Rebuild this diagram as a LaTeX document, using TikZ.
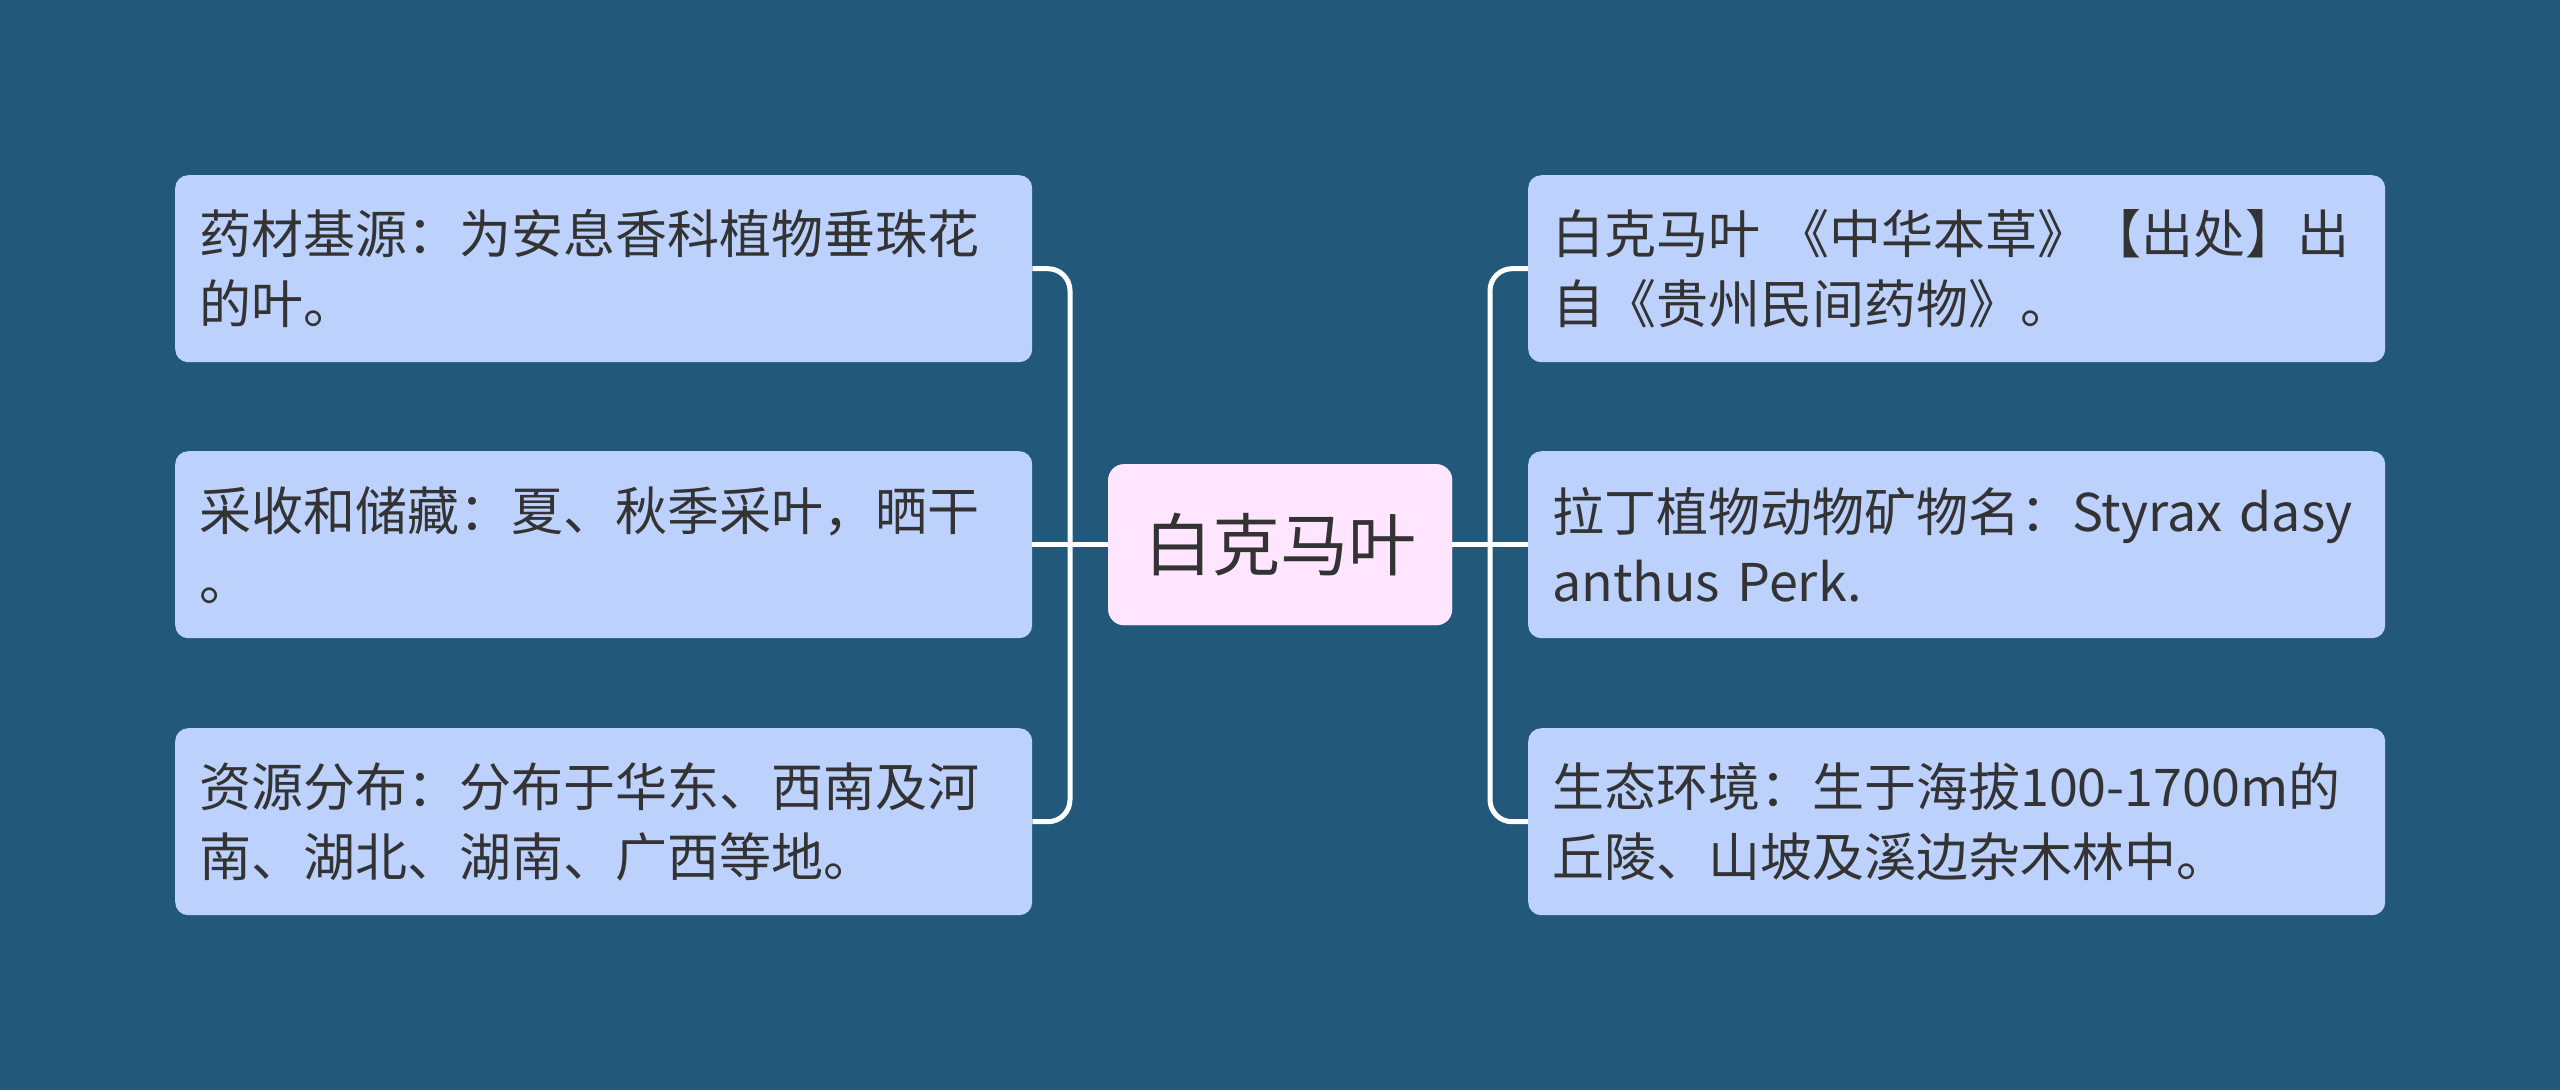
\documentclass[tikz,border=0pt]{standalone}
\usepackage{fontspec}
\setmainfont{Noto Sans CJK SC}
\definecolor{bg}{HTML}{22587A}
\definecolor{leaffill}{HTML}{BDD1FD}
\definecolor{rootfill}{HTML}{FFE5FF}
\definecolor{txt}{HTML}{333333}
\definecolor{linec}{HTML}{FFFFFF}
\tikzset{
  leaf/.style={rectangle, rounded corners=13pt, fill=leaffill, text=txt,
    anchor=north west, inner xsep=24pt, inner ysep=0pt, text width=809pt,
    minimum height=187pt, align=left,
    font=\fontsize{52pt}{70pt}\selectfont},
  rootbox/.style={rectangle, rounded corners=16pt, fill=rootfill, text=txt,
    anchor=north west, minimum width=344pt, minimum height=161pt, inner sep=0pt,
    font=\fontsize{68pt}{80pt}\selectfont},
  conn/.style={draw=linec, line width=5pt, rounded corners=22pt}
}
\begin{document}
\begin{tikzpicture}[x=1pt,y=1pt]
\fill[bg] (0,0) rectangle (2560,-1090);
\useasboundingbox (0,0) rectangle (2560,-1090);

\node[rootbox] (C) at (1108,-464) {白克马叶};

\node[leaf] (L1) at (175,-175) {药材基源：为安息香科植物垂珠花\\的叶。};
\node[leaf] (L2) at (175,-451) {采收和储藏：夏、秋季采叶，晒干\\。};
\node[leaf] (L3) at (175,-728) {资源分布：分布于华东、西南及河\\南、湖北、湖南、广西等地。};

\node[leaf] (R1) at (1528,-175) {白克马叶 《中华本草》【出处】出\\自《贵州民间药物》。};
\node[leaf] (R2) at (1528,-451) {拉丁植物动物矿物名：Styrax dasy\\anthus Perk.};
\node[leaf] (R3) at (1528,-728) {生态环境：生于海拔100-1700m的\\丘陵、山坡及溪边杂木林中。};

\coordinate (JL) at (1070,-545);
\coordinate (JR) at (1490,-545);

\draw[conn] (L1.east) -| (JL) |- (L3.east);
\draw[conn] (L2.east) -- (C.west);
\draw[conn] (R1.west) -| (JR) |- (R3.west);
\draw[conn] (R2.west) -- (C.east);

\node[rootbox] at (C.north west) {白克马叶};
\end{tikzpicture}
\end{document}
